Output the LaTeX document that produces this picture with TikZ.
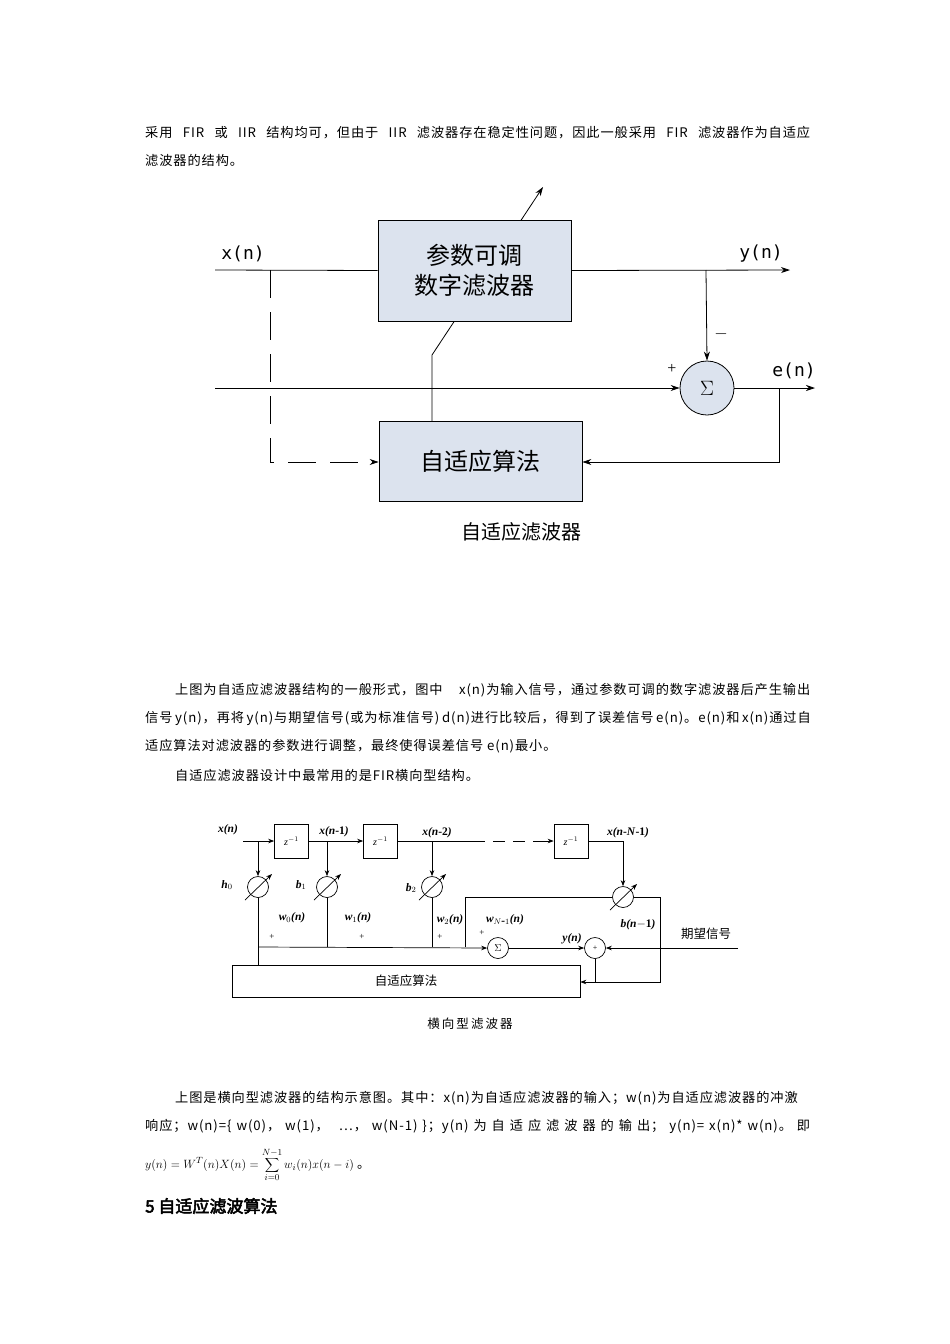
\documentclass[tikz,border=0pt]{standalone}
\usepackage{fontspec}
\setmainfont{Liberation Serif}
\newfontfamily\cj{Noto Sans CJK SC}
\newfontfamily\cjs{Noto Sans CJK SC}[LetterSpace=7]
\newfontfamily\cjb{Noto Sans CJK SC}[FakeBold=3]
\newfontfamily\lsans{DejaVu Sans Mono}
\usetikzlibrary{arrows.meta}
\definecolor{boxfill}{HTML}{DCE3EE}
\begin{document}
\begin{tikzpicture}[x=1pt,y=-1pt,
  txt/.style={anchor=west,inner sep=0pt,font=\cj\fontsize{13.2}{15}\selectfont},
  jtxt/.style={anchor=west,inner sep=0pt,font=\cjs\fontsize{13.2}{15}\selectfont},
  ln/.style={line width=0.8pt},
  arr/.style={ln,-{Stealth[length=9pt,width=6pt]}},
  bigbox/.style={draw,line width=0.8pt,fill=boxfill,font=\cj\fontsize{24}{30}\selectfont,align=center},
  lab1/.style={font=\lsans\fontsize{18}{22}\selectfont,inner sep=0pt},
  sar/.style={line width=0.7pt,-{Stealth[length=6pt,width=4.5pt]}},
  zb/.style={draw,line width=0.7pt,minimum width=34pt,minimum height=34pt,inner sep=0pt},
  wc/.style={draw,circle,line width=0.7pt,minimum size=21pt,inner sep=0pt},
  ml/.style={font=\fontsize{11.5}{12}\selectfont\bfseries\itshape,inner sep=0pt},
  thin/.style={line width=0.7pt}]
\useasboundingbox (0,0) rectangle (950,1344);
\fill[white] (0,0) rectangle (950,1344);
% top text
\node[jtxt] (t1) at (145,133) {\makebox[665pt][s]{采用 FIR 或 IIR 结构均可，但由于 IIR 滤波器存在稳定性问题，因此一般采用 FIR 滤波器作为自适应}};
\node[jtxt] (t2) at (145,160) {滤波器的结构。};
% diagram 1
\coordinate (dA) at (432,421);
\coordinate (dB) at (432,355);
\coordinate (dC) at (543,187);
\draw[arr] (dA) -- (dB) -- (dC);
\node[bigbox,minimum width=193pt,minimum height=101pt] (F) at (474.5,270.5) {参数可调\\数字滤波器};
\node[draw,line width=0.8pt,fill=boxfill,minimum width=203pt,minimum height=80pt,font=\cj\fontsize{24}{30}\selectfont] (A) at (480.5,461) {自适应算法};
\node[draw,circle,line width=0.8pt,fill=boxfill,minimum size=54pt,inner sep=0pt,font=\fontsize{20}{20}\selectfont] (S) at (707,388) {$\Sigma$};
\coordinate (xin) at (215,270);
\coordinate (yout) at (790,270);
\coordinate (tap) at (706,270);
\coordinate (din) at (215,388);
\coordinate (eout) at (815,388);
\coordinate (etap) at (779,388);
\coordinate (ebot) at (779,462);
\coordinate (xtap) at (270,270);
\coordinate (xbot) at (270,462);
\draw[ln] (xin) -- (F.west);
\draw[arr] (F.east) -- (yout);
\draw[arr] (tap) -- (S.north);
\draw[arr] (din) -- (S.west);
\draw[arr] (S.east) -- (eout);
\draw[arr] (etap) -- (ebot) -- (A.east |- ebot);
\draw[arr,dash pattern=on 28pt off 14pt] (xtap) -- (xbot) -- (A.west |- xbot);
\node[lab1] (lx) at (243,254) {x(n)};
\node[lab1] (ly) at (761,254) {y(n)};
\node[lab1] (le) at (794,371) {e(n)};
\node[font=\fontsize{18}{18}\selectfont,inner sep=0pt] (lm) at (721,334) {$-$};
\node[font=\fontsize{16}{16}\selectfont,inner sep=0pt] (lp) at (672,369) {+};
\node[font=\cj\fontsize{20}{24}\selectfont,inner sep=0pt] (cap1) at (521,532) {自适应滤波器};
% paragraph
\node[jtxt] (p1) at (175,690) {\makebox[635pt][s]{上图为自适应滤波器结构的一般形式，图中 x(n)为输入信号，通过参数可调的数字滤波器后产生输出}};
\node[jtxt] (p2) at (145,718) {\makebox[665pt][s]{信号 y(n)，再将 y(n)与期望信号(或为标准信号) d(n)进行比较后，得到了误差信号 e(n)。e(n)和 x(n)通过自}};
\node[jtxt] (p3) at (145,746) {适应算法对滤波器的参数进行调整，最终使得误差信号 e(n)最小。};
\node[jtxt] (p4) at (175,775) {自适应滤波器设计中最常用的是FIR横向型结构。};
% diagram 2
\node[zb] (z1) at (291.5,841) {\textit{z}$^{-1}$};
\node[zb] (z2) at (380.5,841) {\textit{z}$^{-1}$};
\node[zb] (z3) at (571,841) {\textit{z}$^{-1}$};
\node[wc] (c0) at (258,887) {};
\node[wc] (c1) at (327,887) {};
\node[wc] (c2) at (432,887) {};
\node[wc] (c3) at (623,897) {};
\foreach \c in {c0,c1,c2,c3}{\draw[sar] ([shift={(-13pt,-13pt)}]\c.center) -- ([shift={(14pt,13pt)}]\c.center);}
\node[wc] (sg) at (498,948) {$\Sigma$};
\node[wc] (pl) at (595,948) {\footnotesize +};
\node[draw,thin,minimum width=348pt,minimum height=32pt,font=\cj\fontsize{12.5}{14}\selectfont] (ad) at (406,981) {自适应算法};
\coordinate (xs) at (243,841);
\coordinate (t0) at (258,841);
\coordinate (t1) at (327,841);
\coordinate (t2) at (432,841);
\coordinate (d1) at (473,841);
\coordinate (d2) at (535,841);
\coordinate (t3) at (623,841);
\coordinate (b0) at (258,947);
\coordinate (b1) at (327,947);
\coordinate (b2) at (432,947);
\coordinate (r1) at (465,947);
\coordinate (r2) at (465,897);
\coordinate (r3) at (660,897);
\coordinate (r4) at (660,982);
\coordinate (pb) at (595,982);
\coordinate (dsig) at (738,948);
\draw[sar] (xs) -- (z1.west);
\draw[sar] (z1.east) -- (z2.west);
\draw[thin] (z2.east) -- (d1);
\draw[thin,dash pattern=on 12pt off 8pt] (d1) -- (d2);
\draw[sar] (d2) -- (z3.west);
\draw[sar] (z3.east) -- (t3) -- (c3.north);
\draw[sar] (t0) -- (c0.north);
\draw[sar] (t1) -- (c1.north);
\draw[sar] (t2) -- (c2.north);
\draw[thin] (c0.south) -- (ad.north -| c0);
\draw[thin] (c1.south) -- (b1);
\draw[thin] (c2.south) -- (b2);
\draw[sar] (b0) -- (sg.west);
\draw[thin] (r1) -- (r2) -- (c3.west);
\draw[sar] (c3.east) -- (r3) -- (r4) -- (ad.east |- r4);
\draw[sar] (sg.east) -- (pl.west);
\draw[sar] (dsig) -- (pl.east);
\draw[thin] (pl.south) -- (pb);
\node[ml] (lx0) at (228,830) {x(n)};
\node[ml] (lx1) at (334,832) {x(n\textup{-1})};
\node[ml] (lx2) at (437,833) {x(n\textup{-2})};
\node[ml] (lx3) at (628,833) {x(n\textup{-}N\textup{-1})};
\node[ml] (h0) at (227,885) {h$_0$};
\node[ml] (h1) at (301,885) {b$_1$};
\node[ml] (h2) at (411,888) {b$_2$};
\node[ml] (w0) at (292,918) {w$_0$(n)};
\node[ml] (w1) at (358,918) {w$_1$(n)};
\node[ml] (w2) at (450,920) {w$_2$(n)};
\node[ml] (w3) at (505,920) {w$_{N\mbox{-}1}$(n)};
\node[ml] (bn) at (638,925) {b(n\textup{$-$1})};
\node[ml] (yn) at (572,939) {y(n)};
\node[font=\cj\fontsize{12.5}{13}\selectfont,inner sep=0pt] (qw) at (706,934) {期望信号};
\foreach \p in {(272,937),(362,937),(440,937),(482,933)}{\node[font=\small,inner sep=0pt] at \p {+};}
\node[font=\cj\fontsize{12.5}{13}\selectfont,inner sep=0pt] (cap2) at (470,1024) {横\,向\,型\,滤\,波\,器};
% bottom text
\node[jtxt] (q1) at (175,1098) {\makebox[635pt][s]{上图是横向型滤波器的结构示意图。其中：x(n)为自适应滤波器的输入；w(n)为自适应滤波器的冲激}};
\node[jtxt] (q2) at (145,1126) {\makebox[665pt][s]{响应；w(n)=\{ w(0)， w(1)， \ …， w(N-1) \}；y(n) 为 自 适 应 滤 波 器 的 输 出； y(n)= x(n)* w(n)。 即}};
\node[anchor=west,inner sep=0pt,font=\fontsize{13}{14}\selectfont] (fm) at (145,1165) {$y(n)=W^T(n)X(n)=\displaystyle\sum_{i=0}^{N-1}w_i(n)x(n-i)$ \cj 。};
\node[anchor=west,inner sep=0pt,font=\cjb\fontsize{17}{20}\selectfont] (hd) at (145,1206) {5 自适应滤波算法};
\end{tikzpicture}
\end{document}
